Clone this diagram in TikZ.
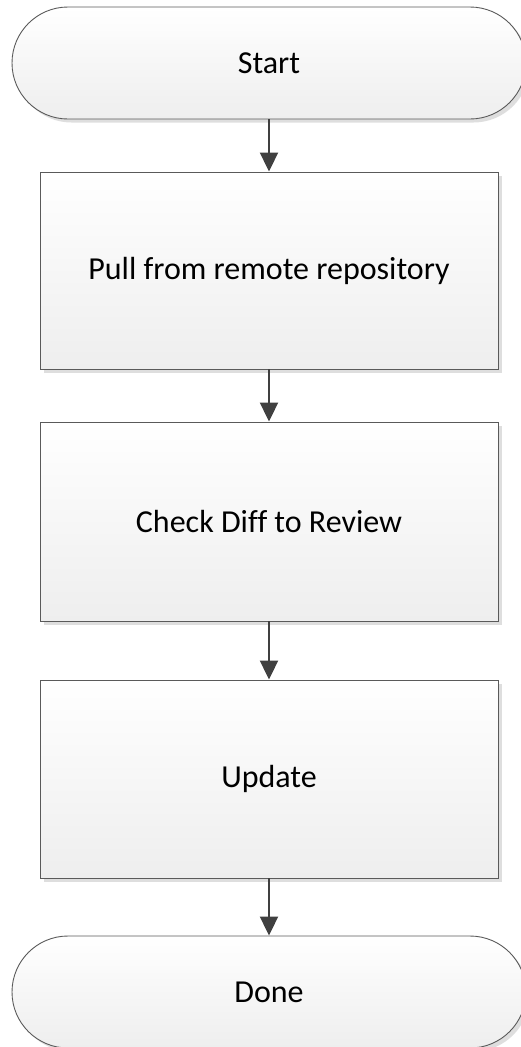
\documentclass[tikz,border=0pt]{standalone}
\usepackage{fontspec}
\setmainfont[Ligatures=NoCommon]{Carlito}
\usetikzlibrary{arrows.meta,shadows}
\definecolor{edgegray}{RGB}{90,90,90}
\definecolor{arrowgray}{RGB}{64,64,64}
\definecolor{fillbot}{RGB}{238,238,238}
\definecolor{shadowgray}{RGB}{222,222,222}
\tikzset{
  base/.style={draw=edgegray, line width=0.9pt, top color=white, bottom color=fillbot,
    drop shadow={shadow xshift=3.5pt, shadow yshift=-3.5pt, fill=shadowgray, opacity=1},
    font=\fontsize{32}{38}\selectfont, inner sep=0pt, text=black},
  terminal/.style={base, rectangle, rounded corners=56pt, minimum width=514pt, minimum height=112pt},
  process/.style={base, rectangle, minimum width=458pt},
  flow/.style={draw=arrowgray, line width=2pt, -{Triangle[length=19pt,width=18pt]}, shorten >=0pt}
}
\begin{document}
\begin{tikzpicture}[x=1pt,y=1pt]
\useasboundingbox (0,0) rectangle (521,-1047);
\node[terminal] (start) at (269,-63) {Start};
\node[process, minimum height=197pt] (pull) at (269,-270.5) {Pull from remote repository};
\node[process, minimum height=199pt] (diff) at (269,-521.5) {Check Diff to Review};
\node[process, minimum height=198pt] (upd) at (269,-779) {Update};
\node[terminal] (done) at (269,-992) {Done};
\draw[flow] (start) -- (pull);
\draw[flow] (pull) -- (diff);
\draw[flow] (diff) -- (upd);
\draw[flow] (upd) -- (done);
\end{tikzpicture}
\end{document}
